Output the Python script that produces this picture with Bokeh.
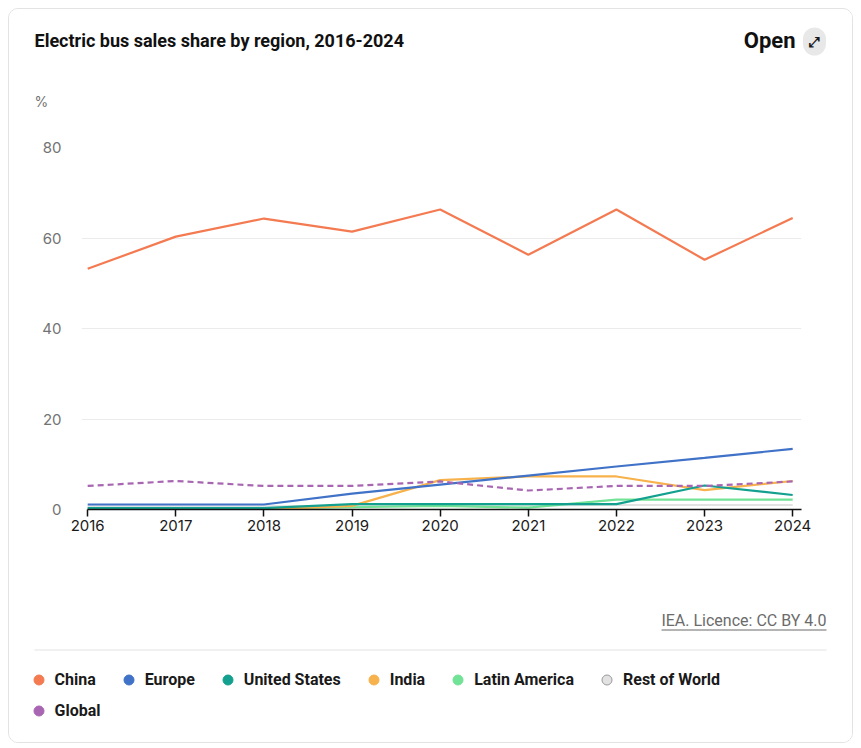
from bokeh.plotting import figure
from bokeh.layouts import column
from bokeh.models import (Range1d, FixedTicker, Label, Legend, LegendItem, BoxAnnotation)
from bokeh.embed import file_html
from bokeh.resources import INLINE

years = [2016, 2017, 2018, 2019, 2020, 2021, 2022, 2023, 2024]
china = [53.2, 60.3, 64.3, 61.4, 66.3, 56.3, 66.3, 55.2, 64.4]
europe = [1.1, 1.1, 1.1, 3.5, 5.5, 7.5, 9.5, 11.4, 13.4]
united_states = [0.3, 0.3, 0.3, 1.2, 1.2, 1.2, 1.2, 5.3, 3.2]
india = [0.0, 0.0, 0.0, 0.8, 6.5, 7.3, 7.3, 4.3, 6.3]
latin_america = [0.2, 0.2, 0.2, 0.5, 0.8, 0.4, 2.2, 2.2, 2.2]
rest_of_world = [0.7, 0.7, 0.7, 0.8, 0.9, 0.9, 1.0, 1.0, 1.0]
global_share = [5.2, 6.3, 5.2, 5.2, 6.2, 4.2, 5.2, 5.2, 6.2]
y_ticks = [0, 20, 40, 60, 80]

names = ["China", "Europe", "United States", "India", "Latin America", "Rest of World", "Global"]
values = [china, europe, united_states, india, latin_america, rest_of_world, global_share]
colors = ["#f47a51", "#4072c8", "#13a08f", "#f7b24c", "#72e396", "#e2e2e2", "#a866b2"]
dashes = ["solid", "solid", "solid", "solid", "solid", "solid", "6 4"]

FONT = "Roboto"
TICK_FONT = "Inter"
W = 843


def blank(height):
    f = figure(width=W, height=height, output_backend="svg", toolbar_location=None,
               x_range=Range1d(0, W), y_range=Range1d(height, 0),
               x_axis_type=None, y_axis_type=None,
               min_border=0, min_border_left=0, min_border_right=0,
               min_border_top=0, min_border_bottom=0, frame_align=False)
    f.outline_line_color = None
    f.grid.visible = False
    f.background_fill_color = "white"
    f.border_fill_color = "white"
    return f


def lab(f, text, x, y, **kw):
    f.add_layout(Label(text=text, x=x, y=y, text_baseline="middle", **kw))


# ---------- header ----------
header = blank(120)
lab(header, "Electric bus sales share by region, 2016-2024", 25, 31, text_font=FONT,
    text_font_size="18px", text_font_style="bold", text_color="#111111")
lab(header, "Open", 786, 31, text_font=FONT, text_font_size="22px",
    text_font_style="bold", text_color="#111111", text_align="right")
lab(header, "\u2922", 805, 32, text_font="DejaVu Sans", text_font_size="14px",
    text_font_style="bold", text_color="#1a1a1a", text_align="center",
    background_fill_color="#e8e8e8", border_radius=13, padding=6)
lab(header, "%", 25, 92, text_font=TICK_FONT, text_font_size="14px", text_color="#737373")

# ---------- chart ----------
p = figure(width=W, height=420, output_backend="svg", toolbar_location=None,
           x_range=Range1d(2015.93, 2024.1), y_range=Range1d(0, 80),
           min_border_left=72, min_border_right=51, min_border_top=18,
           min_border_bottom=40, frame_align=False)
p.outline_line_color = None
p.background_fill_color = "white"
p.border_fill_color = "white"
p.xgrid.visible = False
p.ygrid.grid_line_color = "#ebebeb"
p.ygrid.grid_line_width = 1

p.yaxis.ticker = FixedTicker(ticks=y_ticks)
p.yaxis.axis_line_color = None
p.yaxis.major_tick_line_color = None
p.yaxis.minor_tick_line_color = None
p.yaxis.major_tick_out = 0
p.yaxis.major_label_standoff = 20
p.yaxis.major_label_text_font = TICK_FONT
p.yaxis.major_label_text_font_size = "15px"
p.yaxis.major_label_text_color = "#737373"

p.xaxis.ticker = FixedTicker(ticks=years)
p.xaxis.bounds = (2016, 2024.1)
p.xaxis.axis_line_color = "#111111"
p.xaxis.axis_line_width = 1.5
p.xaxis.major_tick_line_color = "#111111"
p.xaxis.major_tick_line_width = 1.5
p.xaxis.major_tick_out = 7
p.xaxis.major_tick_in = 0
p.xaxis.minor_tick_line_color = None
p.xaxis.major_label_standoff = 3
p.xaxis.major_label_text_font = TICK_FONT
p.xaxis.major_label_text_font_size = "15px"
p.xaxis.major_label_text_color = "#1a1a1a"

order = [5, 4, 3, 2, 1, 0, 6]
for i in order:
    p.line(years, values[i], line_color=colors[i], line_width=2.2,
           line_dash=dashes[i])

# ---------- footer ----------
FH = 193
footer = blank(FH)
lab(footer, "IEA. Licence: CC BY 4.0", 817, 71, text_font=FONT, text_font_size="16px",
    text_color="#6b6b6b", text_align="right")
footer.add_layout(BoxAnnotation(left=652, right=817, top=80, bottom=81,
                                fill_color="#6b6b6b", fill_alpha=1, line_color=None))
footer.add_layout(BoxAnnotation(left=25, right=817, top=100, bottom=101,
                                fill_color="#e3e3e3", fill_alpha=1, line_color=None))

items1, items2 = [], []
for i, n in enumerate(names):
    r = footer.scatter(x=[-1000], y=[-1000], marker="circle", size=10, fill_color=colors[i],
                       line_color="#9a9a9a" if n == "Rest of World" else colors[i],
                       line_width=1)
    (items1 if i < 6 else items2).append(LegendItem(label=n, renderers=[r]))

for items, vy in ((items1, 50.5), (items2, 19.5)):
    lg = Legend(items=items, location=(16.5, vy), orientation="horizontal",
                border_line_color=None, background_fill_alpha=0,
                label_text_font=FONT, label_text_font_size="16px",
                label_text_font_style="bold", label_text_color="#1a1a1a",
                glyph_width=25, glyph_height=25, label_standoff=4,
                spacing=20, padding=0, margin=0)
    footer.add_layout(lg)

page = column(header, p, footer, spacing=0, margin=(8, 0, 0, 8),
              styles={"border": "1px solid #e3e3e3", "border-radius": "10px",
                      "overflow": "hidden"})

open("out.html", "w").write(file_html(page, INLINE))
